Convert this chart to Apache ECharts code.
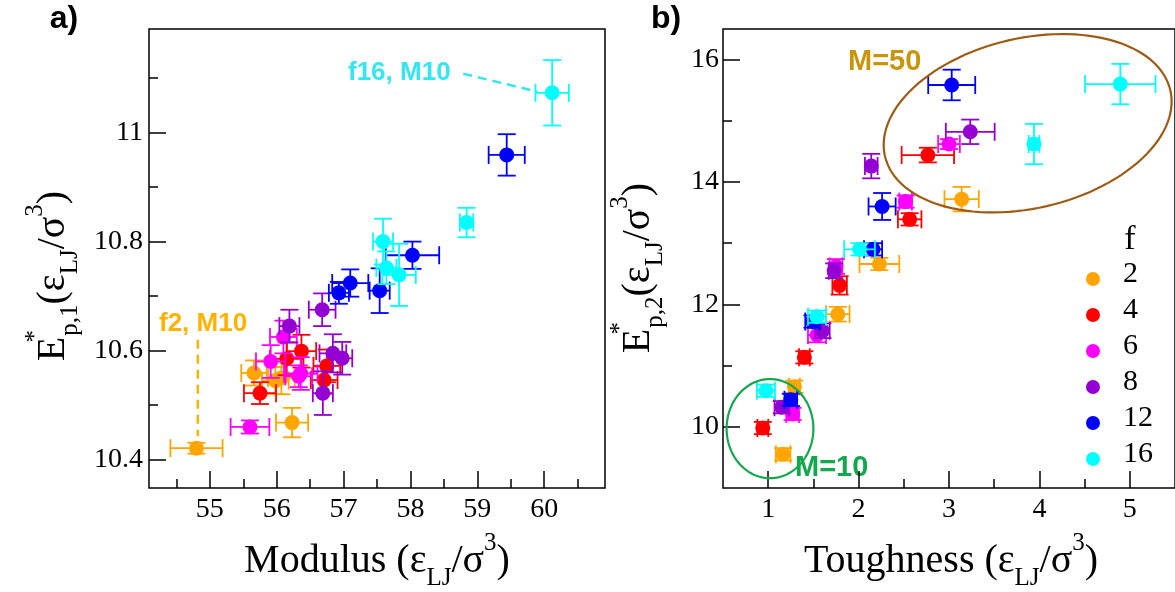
<!DOCTYPE html>
<html><head><meta charset="utf-8">
<script src="https://cdn.jsdelivr.net/npm/echarts@6/dist/echarts.min.js"></script>
<style>html,body{margin:0;padding:0;background:#fff}#c{width:1175px;height:592px}</style>
</head><body><div id="c"></div>
<script>
const fValues = ['2', '4', '6', '8', '12', '16'];
const fColors = ['#FFA500', '#FF0000', '#FF00FF', '#9400D3', '#0000FF', '#00FFFF'];

// Panel a: [modulus, E*p1, xerr, yerr]
const modA_f2  = [[54.80,10.421,0.39,0.010],[56.23,10.468,0.24,0.027],[55.66,10.559,0.19,0.023],[56.07,10.550,0.20,0.030],[55.98,10.545,0.20,0.025]];
const modA_f4  = [[55.75,10.522,0.24,0.020],[56.15,10.585,0.25,0.030],[56.37,10.599,0.22,0.030],[56.75,10.572,0.20,0.030],[56.71,10.546,0.20,0.025]];
const modA_f6  = [[55.60,10.460,0.29,0.012],[55.91,10.580,0.22,0.030],[56.10,10.625,0.20,0.030],[56.36,10.558,0.25,0.030],[56.33,10.553,0.20,0.020]];
const modA_f8  = [[56.19,10.645,0.15,0.030],[56.69,10.522,0.15,0.040],[56.84,10.595,0.20,0.035],[56.98,10.586,0.15,0.030],[56.68,10.675,0.20,0.030]];
const modA_f12 = [[56.93,10.706,0.15,0.020],[57.10,10.724,0.27,0.025],[57.54,10.710,0.15,0.041],[58.03,10.775,0.40,0.025],[59.44,10.959,0.27,0.038]];
const modA_f16 = [[57.59,10.800,0.15,0.042],[57.64,10.752,0.15,0.030],[57.83,10.739,0.25,0.057],[58.84,10.835,0.10,0.027],[60.12,11.073,0.25,0.060]];

// Panel b: [toughness, E*p2, xerr, yerr]
const tghB_f2  = [[1.29,10.655,0.06,0.10],[1.165,9.55,0.08,0.10],[1.77,11.84,0.13,0.12],[2.23,12.66,0.22,0.10],[3.14,13.72,0.19,0.20]];
const tghB_f4  = [[0.94,9.98,0.06,0.10],[1.40,11.135,0.06,0.10],[1.79,12.31,0.08,0.15],[2.565,13.39,0.13,0.10],[2.766,14.44,0.29,0.12]];
const tghB_f6  = [[1.27,10.21,0.07,0.10],[1.54,11.50,0.10,0.12],[1.75,12.62,0.07,0.12],[2.52,13.68,0.07,0.10],[3.00,14.62,0.12,0.08]];
const tghB_f8  = [[1.15,10.32,0.08,0.10],[1.60,11.57,0.08,0.12],[1.73,12.55,0.06,0.12],[2.14,14.26,0.07,0.20],[3.235,14.82,0.27,0.20]];
const tghB_f12 = [[1.25,10.44,0.07,0.10],[1.49,11.72,0.08,0.10],[2.16,12.90,0.10,0.10],[2.26,13.60,0.15,0.22],[3.03,15.585,0.26,0.25]];
const tghB_f16 = [[0.975,10.59,0.10,0.10],[1.54,11.80,0.10,0.10],[2.01,12.90,0.17,0.10],[3.94,14.62,0.06,0.33],[4.895,15.60,0.39,0.33]];

const xTicksA = [55, 56, 57, 58, 59, 60];
const xMinorA = [54.5, 55.5, 56.5, 57.5, 58.5, 59.5, 60.5];
const yTicksA = [10.4, 10.6, 10.8, 11];
const yMinorA = [10.5, 10.7, 10.9, 11.1];
const xTicksB = [1, 2, 3, 4, 5];
const xMinorB = [1.5, 2.5, 3.5, 4.5];
const yTicksB = [10, 12, 14, 16];
const yMinorB = [11, 13, 15];

// annotations (data coordinates)
const leaderF2 = [[54.82, 10.62], [54.82, 10.443]];
const leaderF16 = [[58.79, 11.108], [59.90, 11.075]];
const ellipseM50 = [3.87, 14.96, 1.62, 1.39, 13]; // cx, cy, rx, ry (data units), tilt deg
const ellipseM10 = [1.02, 9.97, 0.48, 0.81, 0];

const panelA = [modA_f2, modA_f4, modA_f6, modA_f8, modA_f12, modA_f16];
const panelB = [tghB_f2, tghB_f4, tghB_f6, tghB_f8, tghB_f12, tghB_f16];

function renderPoint(params, api) {
  const x = api.value(0), y = api.value(1), xe = api.value(2), ye = api.value(3);
  const c = api.coord([x, y]), l = api.coord([x - xe, y]), r = api.coord([x + xe, y]);
  const t = api.coord([x, y + ye]), b = api.coord([x, y - ye]);
  const col = api.visual('color');
  const cap = 9;
  const st = { stroke: col, lineWidth: 1.8 };
  const L = (x1, y1, x2, y2) => ({ type: 'line', shape: { x1, y1, x2, y2 }, style: st });
  return { type: 'group', children: [
    L(l[0], c[1], r[0], c[1]), L(c[0], t[1], c[0], b[1]),
    L(l[0], c[1] - cap, l[0], c[1] + cap), L(r[0], c[1] - cap, r[0], c[1] + cap),
    L(c[0] - cap, t[1], c[0] + cap, t[1]), L(c[0] - cap, b[1], c[0] + cap, b[1]),
    { type: 'circle', shape: { cx: c[0], cy: c[1], r: 7.5 }, style: { fill: col } }
  ]};
}

// ellipse outline traced in pixel space around a data-space centre
function renderEllipse(color) {
  return function (params, api) {
    const cx = api.value(0), cy = api.value(1);
    const c = api.coord([cx, cy]);
    const ex = api.coord([cx + api.value(2), cy]);
    const ey = api.coord([cx, cy + api.value(3)]);
    const rx = Math.abs(ex[0] - c[0]), ry = Math.abs(ey[1] - c[1]);
    const th = api.value(4) * Math.PI / 180;
    const pts = [];
    for (let k = 0; k < 120; k++) {
      const t = k / 120 * 2 * Math.PI;
      const u = rx * Math.cos(t), v = ry * Math.sin(t);
      pts.push([c[0] + u * Math.cos(th) + v * Math.sin(th), c[1] - u * Math.sin(th) + v * Math.cos(th)]);
    }
    return { type: 'polygon', shape: { points: pts },
      style: { fill: 'none', stroke: color, lineWidth: 2.2 } };
  };
}

const serif = 'Liberation Serif';
const tickRich = { t: { fontFamily: serif, fontSize: 28, color: '#000' } };
const tickFmt = v => '{t|' + v + '}';

function majorAxis(min, max, ticks, margin, extra) {
  return Object.assign({
    type: 'value', min, max, splitLine: { show: false },
    axisLine: { show: false, onZero: false },
    axisTick: { show: true, inside: true, length: 17, customValues: ticks, lineStyle: { color: '#000', width: 1.5 } },
    axisLabel: { customValues: ticks, margin: margin, formatter: tickFmt, rich: tickRich, fontFamily: serif, fontSize: 28, color: '#000' }
  }, extra);
}
function minorAxis(min, max, ticks, extra) {
  return Object.assign({
    type: 'value', min, max, splitLine: { show: false },
    axisLine: { show: false, onZero: false },
    axisTick: { show: true, inside: true, length: 9, customValues: ticks, lineStyle: { color: '#000', width: 1.5 } },
    axisLabel: { show: false }
  }, extra);
}

const series = [];
[panelA, panelB].forEach((panel, p) => {
  panel.forEach((data, i) => {
    series.push({
      type: 'custom', name: fValues[i], xAxisIndex: p * 2, yAxisIndex: p * 2,
      data: data, renderItem: renderPoint, clip: false,
      itemStyle: { color: fColors[i] }, encode: { x: 0, y: 1 }
    });
  });
});
series.push({ type: 'line', name: 'leaderF2', xAxisIndex: 0, yAxisIndex: 0, data: leaderF2, symbol: 'none',
  lineStyle: { color: '#FFB300', width: 2.5, type: [9, 6] }, silent: true });
series.push({ type: 'line', name: 'leaderF16', xAxisIndex: 0, yAxisIndex: 0, data: leaderF16, symbol: 'none',
  lineStyle: { color: '#33E6F0', width: 2.5, type: [9, 6] }, silent: true });
series.push({ type: 'custom', name: 'ellM50', xAxisIndex: 2, yAxisIndex: 2, data: [ellipseM50], clip: false,
  renderItem: renderEllipse('#9E5B14'), silent: true });
series.push({ type: 'custom', name: 'ellM10', xAxisIndex: 2, yAxisIndex: 2, data: [ellipseM10], clip: false,
  renderItem: renderEllipse('#13A84E'), silent: true });

const titleRich = {
  m: { fontFamily: serif, fontSize: 40, lineHeight: 60, color: '#000' },
  sub: { fontFamily: serif, fontSize: 25, lineHeight: 26, verticalAlign: 'bottom', color: '#000' },
  sup: { fontFamily: serif, fontSize: 25, lineHeight: 26, verticalAlign: 'top', color: '#000' },
  star: { fontFamily: serif, fontSize: 25, lineHeight: 26, verticalAlign: 'top', width: 1, color: '#000' }
};

const legendTop = 274, legendStep = 36;
const legendLabels = fValues.map((v, i) => ({
  type: 'text', x: 1123, y: legendTop + i * legendStep,
  style: { text: v, font: '30px "Liberation Serif", serif', fill: '#000', align: 'left', verticalAlign: 'middle' }
}));

const chart = echarts.init(document.getElementById('c'), null, { renderer: 'canvas' });
chart.setOption({
  animation: false,
  backgroundColor: '#fff',
  textStyle: { fontFamily: serif },
  grid: [
    { left: 149, top: 29, width: 456, bottom: 104, show: true, borderColor: '#000', borderWidth: 1.5, containLabel: false },
    { left: 723, top: 29, width: 456, bottom: 104, show: true, borderColor: '#000', borderWidth: 1.5, containLabel: false }
  ],
  xAxis: [
    majorAxis(54.09, 60.91, xTicksA, 8, { gridIndex: 0, position: 'bottom' }),
    minorAxis(54.09, 60.91, xMinorA, { gridIndex: 0, position: 'bottom' }),
    majorAxis(0.5, 5.5, xTicksB, 8, { gridIndex: 1, position: 'bottom' }),
    minorAxis(0.5, 5.5, xMinorB, { gridIndex: 1, position: 'bottom' })
  ],
  yAxis: [
    majorAxis(10.348, 11.19, yTicksA, 6, { gridIndex: 0, position: 'left' }),
    minorAxis(10.348, 11.19, yMinorA, { gridIndex: 0, position: 'left' }),
    majorAxis(9, 16.5, yTicksB, 4, { gridIndex: 1, position: 'left' }),
    minorAxis(9, 16.5, yMinorB, { gridIndex: 1, position: 'left' })
  ],
  legend: {
    data: fValues, orient: 'vertical', left: 1081, top: legendTop - 7, icon: 'circle',
    itemWidth: 14, itemHeight: 14, itemGap: legendStep - 14,
    formatter: () => '',
    textStyle: { fontSize: 1, lineHeight: 1, padding: 0 }
  },
  graphic: [
    { type: 'text', x: 64, y: 19, style: { text: 'a)', font: 'bold 32px "Liberation Sans", Arial, sans-serif', fill: '#000', align: 'center', verticalAlign: 'middle' } },
    { type: 'text', x: 666, y: 19, style: { text: 'b)', font: 'bold 32px "Liberation Sans", Arial, sans-serif', fill: '#000', align: 'center', verticalAlign: 'middle' } },
    { type: 'text', x: 1130, y: 240, style: { text: 'f', font: '34px "Liberation Serif", serif', fill: '#000', align: 'center', verticalAlign: 'middle' } },
    { type: 'text', x: 159, y: 324, style: { text: 'f2, M10', font: 'bold 26px "Liberation Sans", Arial, sans-serif', fill: '#FFB300', align: 'left', verticalAlign: 'middle' } },
    { type: 'text', x: 348, y: 73, style: { text: 'f16, M10', font: 'bold 26px "Liberation Sans", Arial, sans-serif', fill: '#33E6F0', align: 'left', verticalAlign: 'middle' } },
    { type: 'text', x: 848, y: 62, style: { text: 'M=50', font: 'bold 29px "Liberation Sans", Arial, sans-serif', fill: '#C8960C', align: 'left', verticalAlign: 'middle' } },
    { type: 'text', x: 795, y: 468, style: { text: 'M=10', font: 'bold 29px "Liberation Sans", Arial, sans-serif', fill: '#13A84E', align: 'left', verticalAlign: 'middle' } },
    { type: 'text', x: 377, y: 561, style: { text: '{m|Modulus (ε}{sub|LJ}{m|/σ}{sup|3}{m|)}', rich: titleRich, align: 'center', verticalAlign: 'middle' } },
    { type: 'text', x: 951, y: 561, style: { text: '{m|Toughness (ε}{sub|LJ}{m|/σ}{sup|3}{m|)}', rich: titleRich, align: 'center', verticalAlign: 'middle' } },
    { type: 'text', x: 53, y: 276, rotation: Math.PI / 2, style: { text: '{m|E}{star|*}{sub|p,1}{m|(ε}{sub|LJ}{m|/σ}{sup|3}{m|)}', rich: titleRich, align: 'center', verticalAlign: 'middle' } },
    { type: 'text', x: 638, y: 268, rotation: Math.PI / 2, style: { text: '{m|E}{star|*}{sub|p,2}{m|(ε}{sub|LJ}{m|/σ}{sup|3}{m|)}', rich: titleRich, align: 'center', verticalAlign: 'middle' } }
  ].concat(legendLabels),
  series: series
});
</script></body></html>
